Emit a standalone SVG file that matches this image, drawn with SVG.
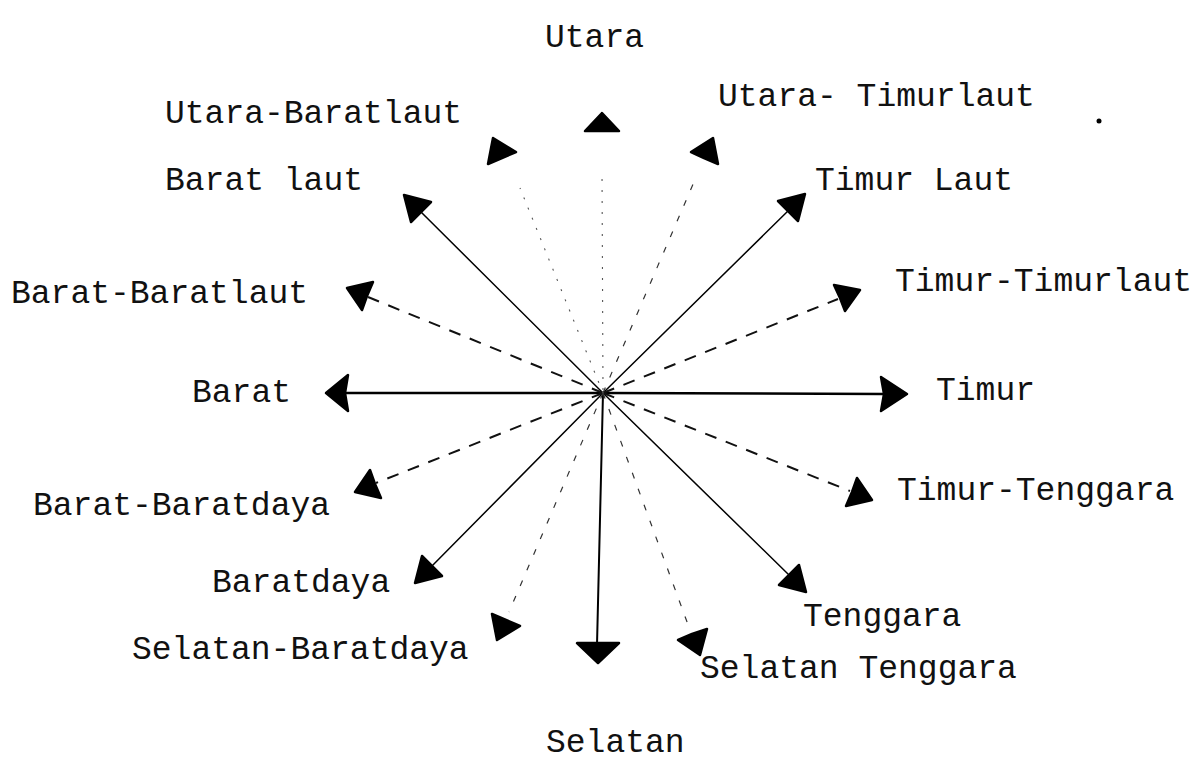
<svg xmlns="http://www.w3.org/2000/svg" width="1194" height="762" viewBox="0 0 1194 762">
<style>
  .lbl { font-family: "Liberation Mono", "Courier New", monospace; font-size: 33px; fill: #111; }
  .solid { stroke: #000; fill: none; stroke-linecap: round; }
  .main { stroke-width: 2.5; }
  .diag { stroke-width: 1.5; }
  .dash { stroke: #111; stroke-width: 2; stroke-dasharray: 12 10; fill: none; }
  .dot { stroke: #333; stroke-width: 1.2; stroke-dasharray: 6 11; fill: none; }
  .fine { stroke: #555; stroke-width: 1.1; stroke-dasharray: 2 9; fill: none; }
  .head { fill: #000; stroke: #000; stroke-width: 2.5; stroke-linejoin: round; }
</style>
<rect width="1194" height="762" fill="#fff"/>
<g id="connectors">
  <line class="solid main" x1="603" y1="393" x2="883" y2="394"/>
  <polygon class="head" points="907,394 881,411 884,394 881,377"/>
  <line class="solid main" x1="603" y1="393" x2="346" y2="393"/>
  <polygon class="head" points="326,393 348,375 345,393 348,411"/>
  <line class="solid" stroke-width="2" x1="603" y1="393" x2="597" y2="645"/>
  <polygon class="head" points="598,663 577,643 619,643"/>
  <line class="fine" x1="603" y1="390" x2="602" y2="170"/>
  <polygon class="head" points="602,113 585,131 619,131"/>
  <line class="solid diag" x1="603" y1="393" x2="790" y2="209"/>
  <polygon class="head" points="805,194 798,221 788,211 778,201"/>
  <line class="solid diag" x1="603" y1="393" x2="419" y2="210"/>
  <polygon class="head" points="404,195 431,202 421,212 411,222"/>
  <line class="solid diag" x1="603" y1="393" x2="788" y2="574"/>
  <polygon class="head" points="806,592 779,585 789,575 799,565"/>
  <line class="solid diag" x1="603" y1="393" x2="430" y2="568"/>
  <polygon class="head" points="415,583 422,556 432,566 442,576"/>
  <line class="dash" x1="603" y1="393" x2="838" y2="299"/>
  <polygon class="head" points="860,290 845,311 840,298 834,285"/>
  <line class="dash" x1="603" y1="393" x2="368" y2="297"/>
  <polygon class="head" points="347,288 373,282 367,296 362,310"/>
  <line class="dash" x1="603" y1="393" x2="376" y2="483"/>
  <polygon class="head" points="355,492 370,470 375,484 381,498"/>
  <line class="dash" x1="603" y1="393" x2="850" y2="491"/>
  <polygon class="head" points="872,500 846,506 852,492 857,478"/>
  <line class="dot" x1="603" y1="393" x2="694" y2="182"/>
  <polygon class="head" points="713,138 718,164 704,158 691,152"/>
  <line class="fine" stroke-dasharray="2 14" x1="603" y1="393" x2="520" y2="188"/>
  <polygon class="head" points="493,138 516,152 502,158 488,164"/>
  <line class="dot" stroke-dasharray="5 12" x1="603" y1="393" x2="509" y2="612"/>
  <polygon class="head" points="497,640 492,614 506,620 520,626"/>
  <line class="dot" stroke-dasharray="7 6 2 6" x1="603" y1="393" x2="690" y2="630"/>
  <polygon class="head" points="700,655 678,640 692,634 707,629"/>
</g>
<g id="n-utara"><text class="lbl" x="545" y="47">Utara</text></g>
<g id="n-utara-baratlaut"><text class="lbl" x="165" y="123">Utara-Baratlaut</text></g>
<g id="n-barat-laut"><text class="lbl" x="165" y="190">Barat laut</text></g>
<g id="n-utara-timurlaut"><text class="lbl" x="718" y="106">Utara- Timurlaut</text></g>
<g id="n-timur-laut"><text class="lbl" x="815" y="190">Timur Laut</text></g>
<g id="n-barat-baratlaut"><text class="lbl" x="11" y="303">Barat-Baratlaut</text></g>
<g id="n-timur-timurlaut"><text class="lbl" x="895" y="291">Timur-Timurlaut</text></g>
<g id="n-barat"><text class="lbl" x="192" y="402">Barat</text></g>
<g id="n-timur"><text class="lbl" x="936" y="400">Timur</text></g>
<g id="n-barat-baratdaya"><text class="lbl" x="33" y="515">Barat-Baratdaya</text></g>
<g id="n-timur-tenggara"><text class="lbl" x="897" y="500">Timur-Tenggara</text></g>
<g id="n-baratdaya"><text class="lbl" x="212" y="592">Baratdaya</text></g>
<g id="n-tenggara"><text class="lbl" x="803" y="626">Tenggara</text></g>
<g id="n-selatan-baratdaya"><text class="lbl" x="132" y="659">Selatan-Baratdaya</text></g>
<g id="n-selatan-tenggara"><text class="lbl" x="700" y="678">Selatan Tenggara</text></g>
<g id="n-selatan"><text class="lbl" x="546" y="752">Selatan</text></g>
<circle cx="1099" cy="121" r="2.5" fill="#000"/>
</svg>
